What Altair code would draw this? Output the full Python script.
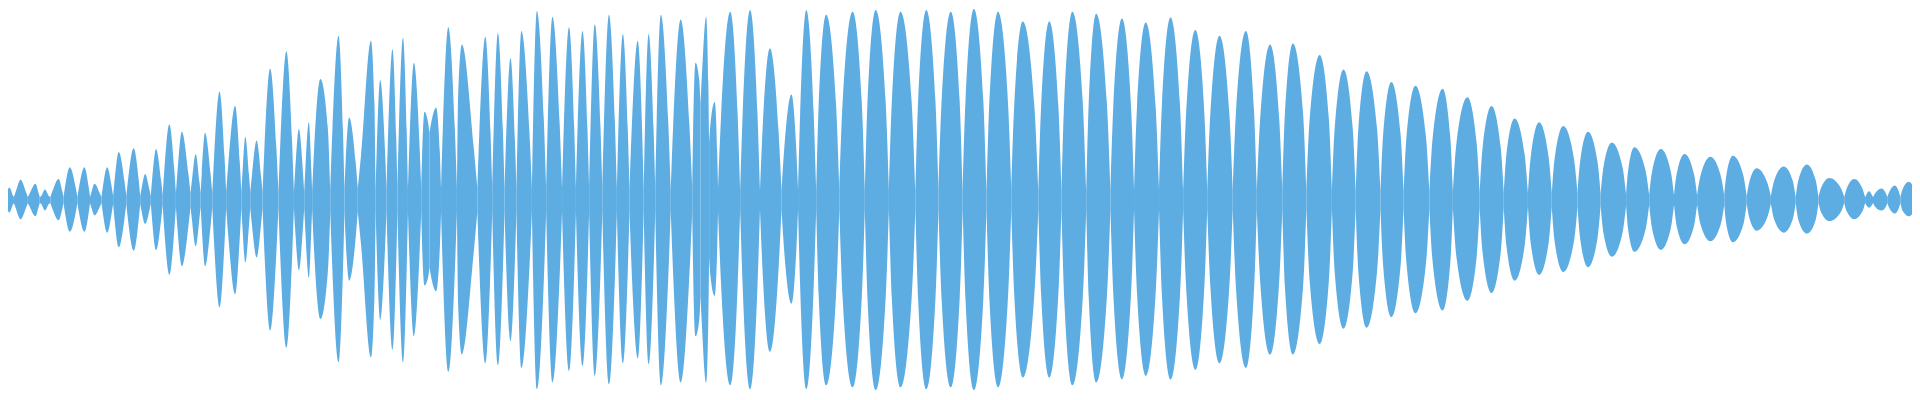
import altair as alt
import pandas as pd

# Positions of the troughs between wave lobes (pixel-time units, 0..1920)
trough_x = [-4, 6, 20, 32, 42.7, 56, 70, 82.7, 94.3, 106,
            119.3, 133.3, 144, 156, 169.3, 184, 194.3, 206, 220, 235.3,
            244.3, 256.7, 272.7, 288.3, 298.7, 306.7, 325, 339.3, 352.7, 370.7,
            381.7, 392.7, 403.3, 416.7, 425, 436.7, 452.7, 473.3, 488.3, 500.7,
            512.7, 528.3, 542.7, 558.7, 572.7, 586, 599.3, 614, 626.7, 641,
            652.7, 668.3, 690, 698.3, 707, 716, 738.3, 758.3, 780, 796.7,
            815, 838.3, 864, 888.3, 915, 938.3, 962.7, 986.7, 1011.7, 1039,
            1062.3, 1087.3, 1111.7, 1135.5, 1160.7, 1185, 1209.3, 1235, 1259.3, 1285,
            1309.3, 1335, 1359, 1384, 1407.3, 1433.3, 1457, 1484, 1508.3, 1532.7,
            1556.7, 1582.7, 1606, 1631.7, 1655, 1680, 1703.3, 1730.7, 1753.3, 1777.7,
            1802.7, 1825.7, 1851.7, 1872.7, 1880.7, 1895, 1908.3, 1924]

# Amplitude remaining at each trough
trough_amp = [3, 3, 3, 3, 3, 3, 3, 3, 3, 4,
              4, 4, 4, 5, 7, 7, 7, 7, 8, 8,
              8, 8, 8, 8, 8, 9, 12, 12, 12, 12,
              12, 12, 12, 12, 70, 12, 12, 12, 12, 12,
              12, 12, 12, 12, 12, 12, 12, 12, 12, 11,
              11, 11, 12, 100, 60, 12, 10, 10, 10, 10,
              10, 10, 10, 10, 10, 10, 10, 10, 10, 10,
              10, 10, 10, 10, 10, 10, 10, 10, 10, 10,
              9, 9, 9, 9, 9, 9, 8, 8, 8, 7,
              7, 7, 6, 6, 5, 5, 5, 5, 4, 4,
              3, 3, 3, 3, 3, 3, 3, 3]

# Lobe peaks
peak_x = [1.5, 12.7, 27.7, 37.3, 51, 62.3, 77, 87.3, 100, 111.7,
          126.7, 138.3, 149.3, 162.7, 175.3, 189.3, 198.7, 213.3, 229, 239.3,
          250.7, 264.3, 280.7, 293.3, 303.3, 315, 333.3, 344, 366, 375.3,
          387.7, 398.3, 409.3, 420, 431.7, 444, 457.7, 481.3, 494, 506.7,
          517.7, 533.3, 549, 565.7, 579.3, 591.7, 606, 620, 635, 646,
          658.3, 678.3, 693.3, 704, 712.7, 728.3, 748.3, 768.3, 790, 805,
          825, 851.7, 875, 900, 926, 950.7, 974, 998.3, 1023.3, 1050,
          1073.3, 1097.3, 1123.3, 1147.3, 1172.3, 1197.3, 1221.7, 1248.3, 1272.7, 1295.7,
          1322.7, 1346.7, 1370, 1395, 1419.3, 1446.7, 1471.7, 1496, 1519.3, 1544,
          1568.3, 1593.3, 1617.3, 1640, 1666.7, 1690.7, 1716.7, 1739.3, 1763.3, 1790.7,
          1814, 1836.7, 1861.7, 1876.7, 1889.3, 1902.7, 1916.7]

peak_top = [13, 21, 17, 11, 22, 34, 34, 17, 34, 50,
            54, 27, 53, 79, 71, 48, 70, 113, 98, 66,
            62, 137, 155, 74, 81, 126, 171, 86, 166, 125,
            157, 169, 143, 92, 96, 180, 162, 170, 174, 148,
            176, 197, 191, 180, 176, 183, 193, 173, 166, 173,
            193, 188, 143, 191, 102, 196, 198, 158, 110, 198,
            193, 196, 198, 196, 198, 196, 199, 196, 186, 186,
            196, 194, 189, 185, 190, 177, 171, 176, 162, 163,
            151, 136, 134, 123, 119, 116, 107, 98, 85, 81,
            77, 71, 60, 55, 53, 48, 45, 46, 33, 35,
            37, 23, 22, 9, 12, 15, 19]

peak_bottom = [13, 20, 17, 11, 21, 33, 33, 16, 34, 49,
               53, 25, 52, 78, 69, 48, 69, 112, 98, 65,
               60, 136, 154, 73, 81, 124, 169, 84, 164, 125,
               156, 169, 142, 89, 95, 179, 161, 170, 172, 147,
               175, 197, 190, 178, 173, 183, 192, 170, 165, 171,
               193, 190, 142, 190, 100, 193, 197, 158, 108, 197,
               193, 195, 198, 195, 197, 195, 198, 195, 185, 185,
               193, 190, 187, 183, 187, 177, 170, 175, 161, 161,
               150, 134, 133, 122, 118, 115, 105, 97, 84, 78,
               75, 70, 59, 54, 52, 46, 43, 44, 32, 34,
               35, 22, 20, 8, 11, 14, 17]

# Amplitude a quarter of the way from each trough into the lobe (left / right flank)
shoulder_left = [5, 8, 7, 4, 9, 14, 14, 7, 14, 20,
                 22, 11, 21, 32, 28, 19, 28, 45, 39, 26,
                 25, 55, 62, 30, 32, 55, 72, 40, 47, 53,
                 66, 71, 60, 45, 80, 76, 110, 71, 73, 62,
                 74, 83, 80, 76, 74, 77, 81, 73, 70, 73,
                 81, 79, 70, 130, 80, 88, 89, 71, 50, 89,
                 100, 102, 103, 102, 103, 102, 103, 102, 97, 97,
                 102, 101, 98, 96, 99, 92, 89, 92, 84, 91,
                 85, 76, 75, 69, 67, 65, 60, 55, 48, 45,
                 43, 40, 34, 31, 30, 27, 25, 26, 18, 20,
                 21, 13, 12, 5, 7, 8, 11]

shoulder_right = [5, 8, 7, 4, 9, 14, 14, 7, 14, 20,
                  22, 11, 21, 32, 28, 19, 28, 45, 39, 26,
                  25, 55, 62, 30, 32, 75, 72, 40, 100, 53,
                  66, 71, 60, 80, 50, 76, 57, 71, 73, 62,
                  74, 83, 80, 76, 74, 77, 81, 73, 70, 73,
                  81, 79, 125, 120, 50, 88, 89, 71, 50, 89,
                  100, 102, 103, 102, 103, 102, 103, 102, 97, 97,
                  102, 101, 98, 96, 99, 92, 89, 92, 84, 91,
                  85, 76, 75, 69, 67, 65, 60, 55, 48, 45,
                  43, 40, 34, 31, 30, 27, 25, 26, 18, 20,
                  21, 13, 12, 5, 7, 8, 11]

assert len(trough_x) == len(trough_amp) == len(peak_x) + 1
assert len(peak_x) == len(peak_top) == len(peak_bottom) == len(shoulder_left) == len(shoulder_right)

rows = []
for i in range(len(peak_x)):
    x0, x1, xp = trough_x[i], trough_x[i + 1], peak_x[i]
    pts = [
        (x0, trough_amp[i], -trough_amp[i]),
        (x0 + 0.25 * (xp - x0), shoulder_left[i], -shoulder_left[i]),
        (xp, peak_top[i], -peak_bottom[i]),
        (x1 - 0.25 * (x1 - xp), shoulder_right[i], -shoulder_right[i]),
        (x1, trough_amp[i + 1], -trough_amp[i + 1]),
    ]
    for x, up, lo in pts:
        rows.append({"lobe": i, "t": x, "upper": up, "lower": lo})
df = pd.DataFrame(rows)

chart = (
    alt.Chart(df)
    .mark_area(interpolate="monotone", color="#5DADE2", clip=True)
    .encode(
        x=alt.X("t:Q", scale=alt.Scale(domain=[0, 1920], nice=False, zero=False), axis=None),
        y=alt.Y("upper:Q", scale=alt.Scale(domain=[-200, 200], nice=False), axis=None),
        y2="lower:Q",
        detail="lobe:N",
    )
    .properties(width=1904, height=384, padding=0, background="white")
    .configure_view(strokeWidth=0)
)

chart.save("out.html", embed_options={"renderer": "svg", "actions": False})
